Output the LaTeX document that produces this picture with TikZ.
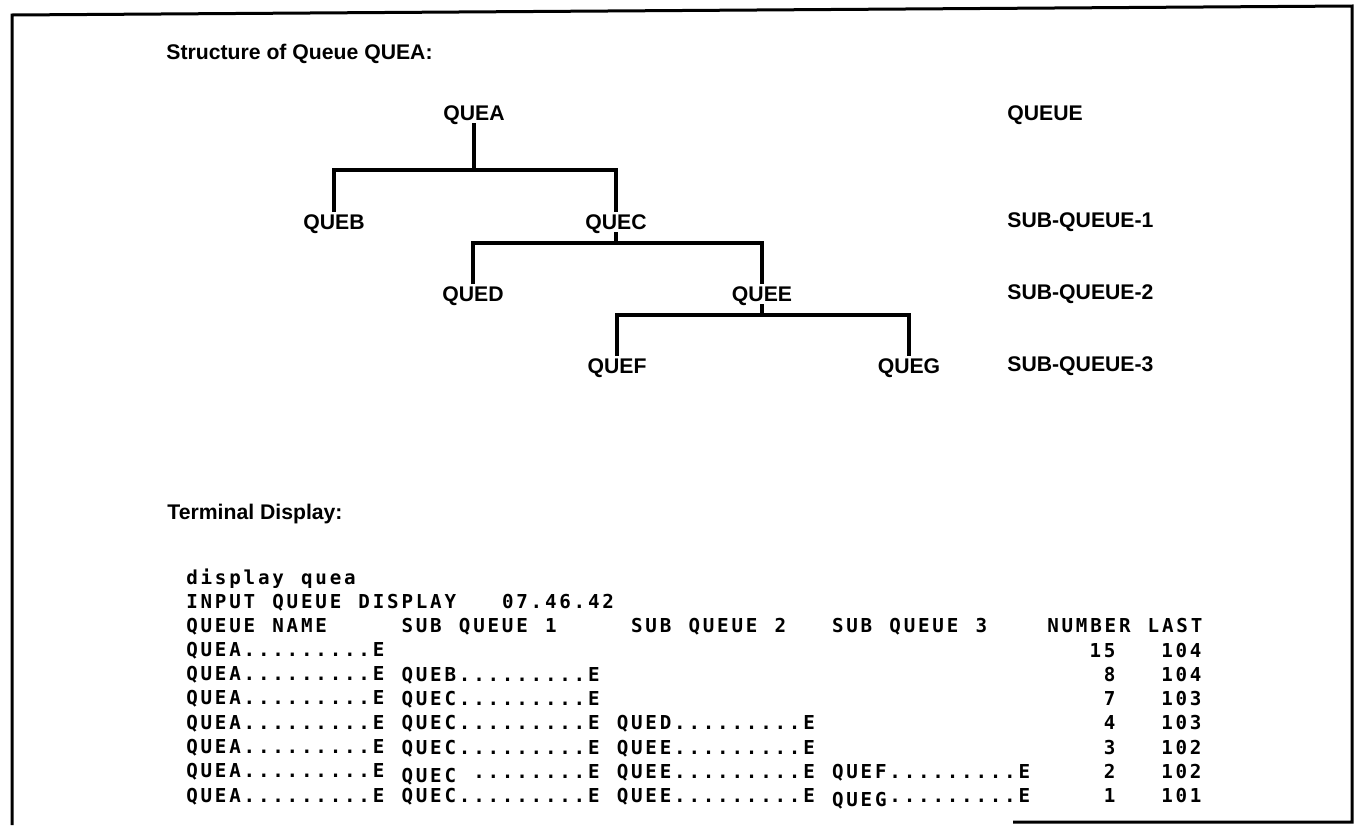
\documentclass[tikz,border=0pt]{standalone}
\usepackage{fontspec}
\usepackage{tikz}
\usetikzlibrary{positioning,calc}
\newfontfamily\labelfont{Liberation Sans}
\newfontfamily\termfont{DejaVu Sans Mono}

% terminal text: one character per fixed cell
\newlength\cellw
\setlength\cellw{7.175pt}
\def\ttyend{\ttyend}
\newcommand\tty[1]{\ttyloop#1\ttyend}
\def\ttyloop#1{\ifx#1\ttyend\else\hbox to\cellw{\hss#1\hss}\expandafter\ttyloop\fi}
\newcommand\col[1]{184.5+14.35*#1}

\tikzset{
  heading/.style={font=\labelfont\bfseries\fontsize{10.6}{12}\selectfont, anchor=west, inner sep=0pt, text height=7.6pt, text depth=0pt},
  qname/.style={font=\labelfont\bfseries\fontsize{10.6}{12}\selectfont, inner sep=1pt, text height=7.6pt, text depth=0pt},
  term/.style={font=\termfont\bfseries\fontsize{9.6}{11}\selectfont, anchor=west, inner sep=0pt, text height=7pt, text depth=0pt},
  termnum/.style={term, anchor=east},
  branch/.style={line width=1.7pt},
  pageframe/.style={line width=1.5pt, line join=miter},
}

\begin{document}
\begin{tikzpicture}[x=0.5pt, y=-0.5pt]
    \useasboundingbox (0,0) rectangle (1359,825);

    % frame of the figure
    \draw[pageframe] (12,825) -- (12,15) -- (1352,6) -- (1352,822) -- (1013,822);

    % headings
    \node[heading] (title) at (166,52) {Structure of Queue QUEA:};
    \node[heading] (termtitle) at (167,512) {Terminal Display:};

    % queue tree
    \node[qname] (quea) at (474,113) {QUEA};
    \node[qname] (queb) at (334,222) {QUEB};
    \node[qname] (quec) at (616,222) {QUEC};
    \node[qname] (qued) at (473,294) {QUED};
    \node[qname] (quee) at (762,294) {QUEE};
    \node[qname] (quef) at (617,366) {QUEF};
    \node[qname] (queg) at (909,366) {QUEG};

    \coordinate (fork1) at (474,170);
    \coordinate (fork2) at (616,243);
    \coordinate (fork3) at (762,315);

    \draw[branch] (quea.south) -- (fork1);
    \draw[branch] (queb.north) |- (fork1) -| (quec.north);
    \draw[branch] (quec.south) -- (fork2);
    \draw[branch] (qued.north) |- (fork2) -| (quee.north);
    \draw[branch] (quee.south) -- (fork3);
    \draw[branch] (quef.north) |- (fork3) -| (queg.north);

    % levels
    \node[heading] (lv0) at (1007,113) {QUEUE};
    \node[heading] (lv1) at (1007,220) {SUB-QUEUE-1};
    \node[heading] (lv2) at (1007,292) {SUB-QUEUE-2};
    \node[heading] (lv3) at (1007,364) {SUB-QUEUE-3};

    % terminal output
    \node[term] (cmd) at ({\col{0}},577) {\tty{display~quea}};
    \node[term] (inp) at ({\col{0}},601) {\tty{INPUT~QUEUE~DISPLAY}};
    \node[term] (time) at ({\col{22}},601) {\tty{07.46.42}};
    \node[term] (h0) at ({\col{0}},625) {\tty{QUEUE~NAME}};
    \node[term] (h1) at ({\col{15}},625) {\tty{SUB~QUEUE~1}};
    \node[term] (h2) at ({\col{31}},625) {\tty{SUB~QUEUE~2}};
    \node[term] (h3) at ({\col{45}},625) {\tty{SUB~QUEUE~3}};
    \node[term] (h4) at ({\col{60}},625) {\tty{NUMBER~LAST}};

    \foreach \r in {1,...,7}
        \node[term] (qa\r) at ({\col{0}},{625+24.3*\r}) {\tty{QUEA.........E}};

    \node[term] (qb2) at ({\col{15}},674) {\tty{QUEB.........E}};
    \node[term] (qc3) at ({\col{15}},698) {\tty{QUEC.........E}};
    \node[term] (qc4) at ({\col{15}},722) {\tty{QUEC.........E}};
    \node[term] (qd4) at ({\col{30}},722) {\tty{QUED.........E}};
    \node[term] (qc5) at ({\col{15}},747) {\tty{QUEC.........E}};
    \node[term] (qe5) at ({\col{30}},747) {\tty{QUEE.........E}};
    \node[term] (qc6) at ({\col{15}},775) {\tty{QUEC}};
    \node[term] (qc6d) at ({\col{20}},771) {\tty{........E}};
    \node[term] (qe6) at ({\col{30}},771) {\tty{QUEE.........E}};
    \node[term] (qf6) at ({\col{45}},771) {\tty{QUEF.........E}};
    \node[term] (qc7) at ({\col{15}},795) {\tty{QUEC.........E}};
    \node[term] (qe7) at ({\col{30}},795) {\tty{QUEE.........E}};
    \node[term] (qg7) at ({\col{45}},799) {\tty{QUEG}};
    \node[term] (qg7d) at ({\col{49}},795) {\tty{.........E}};

    \node[termnum] (n1) at ({\col{65}},650) {\tty{15}};
    \node[termnum] (n2) at ({\col{65}},674) {\tty{8}};
    \node[termnum] (n3) at ({\col{65}},698) {\tty{7}};
    \node[termnum] (n4) at ({\col{65}},722) {\tty{4}};
    \node[termnum] (n5) at ({\col{65}},747) {\tty{3}};
    \node[termnum] (n6) at ({\col{65}},771) {\tty{2}};
    \node[termnum] (n7) at ({\col{65}},795) {\tty{1}};
    \node[termnum] (l1) at ({\col{71}},650) {\tty{104}};
    \node[termnum] (l2) at ({\col{71}},674) {\tty{104}};
    \node[termnum] (l3) at ({\col{71}},698) {\tty{103}};
    \node[termnum] (l4) at ({\col{71}},722) {\tty{103}};
    \node[termnum] (l5) at ({\col{71}},747) {\tty{102}};
    \node[termnum] (l6) at ({\col{71}},771) {\tty{102}};
    \node[termnum] (l7) at ({\col{71}},795) {\tty{101}};
\end{tikzpicture}
\end{document}
